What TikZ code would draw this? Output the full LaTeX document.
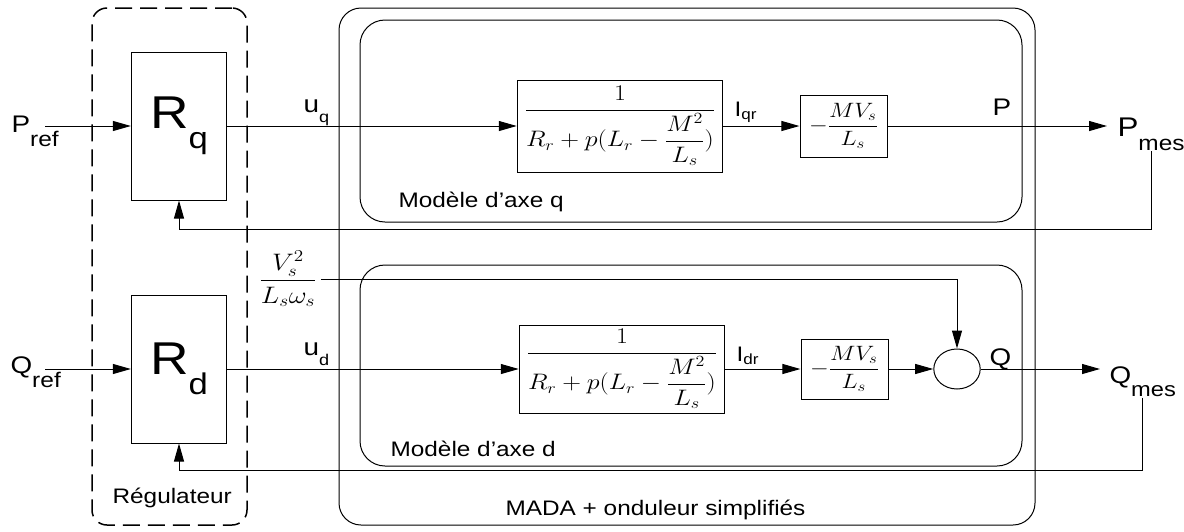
\documentclass[tikz,border=0pt]{standalone}
\usepackage{fontspec}
\setmainfont{Liberation Sans}
\usepackage{amsmath}
\usetikzlibrary{arrows.meta}

\newcommand{\idx}[2][0.88]{\scalebox{#1}{\raisebox{-0.68em}{#2}}}

\begin{document}
\begin{tikzpicture}[x=1pt,y=-1pt,line width=1pt]
        \tikzset{edge/.style = {-{Triangle[length=18pt,width=10pt]}}}
        \tikzset{lbl/.style = {font=\fontsize{24}{28}\selectfont, xscale=1.16, inner sep=0pt}}
        \tikzset{note/.style = {font=\fontsize{21}{25}\selectfont, xscale=1.16, inner sep=0pt}}
        \tikzset{blk/.style = {draw, xscale=1.16, inner sep=1pt, font=\fontsize{20.74}{25}\selectfont}}
        \tikzset{frame/.style = {draw, rounded corners=22pt}}
        \useasboundingbox (0,0) rectangle (1184,531);

        % cadres
        \node[frame, dashed, dash pattern=on 17pt off 8pt, line width=1.5pt, rounded corners=15pt,
              minimum width=155, minimum height=517] (reg) at (169.5,266.5) {};
        \node[frame, minimum width=696, minimum height=517] (mada) at (687,266.5) {};
        \node[frame, rounded corners=25pt, minimum width=662, minimum height=202] (axq) at (691,121) {};
        \node[frame, rounded corners=25pt, minimum width=662, minimum height=201] (axd) at (691,365.5) {};

        \node[note, anchor=base west] (tq) at (398,207) {Modèle d’axe q};
        \node[note, anchor=base west] (td) at (390,456) {Modèle d’axe d};
        \node[note, anchor=base west] (tm) at (505,515) {MADA + onduleur simplifiés};
        \node[note, anchor=base west] (tr) at (112,503) {Régulateur};

        % regulateurs
        \node[blk, minimum width=82, minimum height=148, font=\fontsize{46}{50}\selectfont] (Rq) at (179,126) {R\idx[0.65]{q}};
        \node[blk, minimum width=82, minimum height=148, font=\fontsize{46}{50}\selectfont] (Rd) at (179,369) {R\idx[0.65]{d}};

        % axe q
        \node[blk, minimum width=177, minimum height=92] (TFq) at (620,126)
             {\scalebox{1.08}{$\dfrac{1}{R_r+p(L_r-\dfrac{M^2}{L_s})}$}};
        \node[blk, minimum width=75, minimum height=62] (Gq) at (843.5,126) {$-\dfrac{MV_s}{L_s}$};

        % axe d
        \node[blk, minimum width=177, minimum height=88] (TFd) at (622,369)
             {\scalebox{1.08}{$\dfrac{1}{R_r+p(L_r-\dfrac{M^2}{L_s})}$}};
        \node[blk, minimum width=75, minimum height=60] (Gd) at (844.5,369) {$-\dfrac{MV_s}{L_s}$};
        \node[draw, circle, minimum size=40, xscale=1.16, inner sep=0pt] (sum) at (957,369) {};
        \node[blk, draw=none, inner sep=3pt] (Vs) at (288,279)
             {\scalebox{1.15}{$\dfrac{V_s^2}{L_s\omega_s}$}};

        % entrees / sorties
        \node[lbl, anchor=base west] (Pref) at (11,132) {P\idx{ref}};
        \node[lbl, anchor=base west] (Qref) at (10,373) {Q\idx{ref}};
        \node[lbl, anchor=base west, font=\fontsize{27}{30}\selectfont] (Pmes) at (1117,136) {P\idx[0.78]{mes}};
        \node[lbl, anchor=base west] (Qmes) at (1109,383) {Q\idx[0.85]{mes}};
        \coordinate (pin) at (45,126);
        \coordinate (qin) at (45,369);
        \coordinate (fbq) at (179,229);
        \coordinate (fbd) at (179,470);

        % signaux
        \node[lbl, anchor=base west] (uq) at (303,112) {u\idx[0.65]{q}};
        \node[lbl, anchor=base west] (ud) at (303,355) {u\idx[0.65]{d}};
        \node[note, anchor=base west] (iq) at (734,116) {I\textsubscript{qr}};
        \node[note, anchor=base west] (id) at (736,361) {I\textsubscript{dr}};
        \node[lbl, anchor=base west] (P) at (992,115) {P};
        \node[lbl, anchor=base west] (Q) at (989,365) {Q};

        \draw[edge] (pin) -- (Rq);
        \draw[edge] (Rq) -- (TFq);
        \draw[edge] (TFq) -- (Gq);
        \draw[edge, shorten >=10pt] (Gq) -- (Gq -| Pmes.west);
        \draw[edge] (Pmes.south) |- (fbq) -- (Rq.south);

        \draw[edge] (qin) -- (Rd);
        \draw[edge] (Rd) -- (TFd);
        \draw[edge] (TFd) -- (Gd);
        \draw[edge] (Gd) -- (sum);
        \draw[edge, shorten >=9pt] (sum) -- (sum -| Qmes.west);
        \draw[edge] (Vs.east) -| (sum.north);
        \draw[edge] (Qmes.south) |- (fbd) -- (Rd.south);
\end{tikzpicture}
\end{document}
